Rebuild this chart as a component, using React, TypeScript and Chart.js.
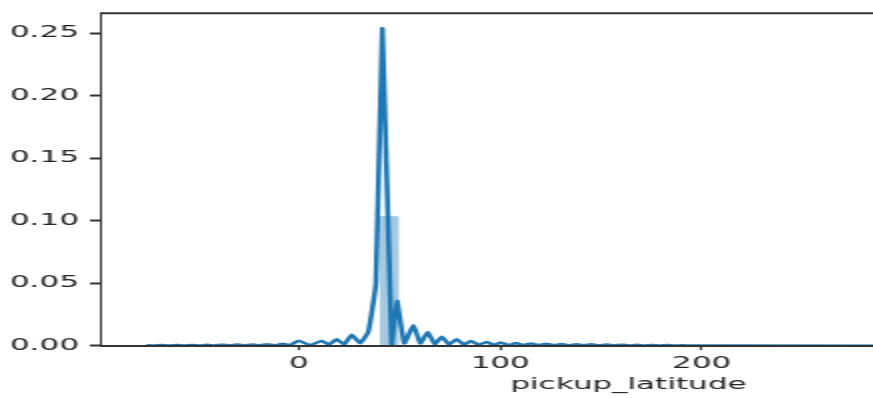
import React, { useEffect, useRef } from "react";
import { Chart, registerables } from "chart.js";

Chart.register(...registerables);

// Histogram (density) bin edges and heights
const HIST_EDGES = [39.9, 49.8];
const HIST_DENSITY = [0.1035];

// KDE curve samples
const KDE_X = [
  -75.8, -72.0, -68.3, -64.5, -60.8, -57.0, -53.2, -49.5, -45.7, -42.0,
  -38.2, -34.5, -30.7, -27.0, -23.2, -19.4, -15.7, -11.9, -8.2, -4.4,
  -0.3, 5.5, 11.3, 14.8, 18.7, 22.4, 26.2, 30.3, 34.4, 38.2,
  41.4, 46.0, 48.6, 52.3, 56.8, 60.2, 63.9, 67.4, 70.9, 74.5,
  78.3, 81.8, 85.4, 89.2, 93.2, 96.7, 100.3, 104.0, 107.8, 111.5,
  115.3, 119.0, 122.8, 126.5, 130.3, 134.0, 137.8, 141.5, 145.3, 149.0,
  152.8, 156.5, 160.3, 164.0, 167.8, 171.5, 175.3, 179.0, 182.8, 186.5,
  190.3, 194.0, 198.0, 402.0,
];
const KDE_Y = [
  0.0004, 0.0001, 0.0005, 0.0001, 0.0006, 0.0001, 0.0006, 0.0002, 0.0007, 0.0002,
  0.0008, 0.0002, 0.0009, 0.0002, 0.001, 0.0003, 0.0012, 0.0003, 0.0015, 0.0004,
  0.004, 0.0004, 0.004, 0.0008, 0.0051, 0.001, 0.0087, 0.0019, 0.011, 0.05,
  0.254, 0.0005, 0.036, 0.0018, 0.0165, 0.0018, 0.011, 0.0012, 0.0072, 0.001,
  0.0052, 0.0008, 0.0038, 0.0007, 0.003, 0.0006, 0.0025, 0.0005, 0.0021, 0.0005,
  0.0018, 0.0004, 0.0016, 0.0004, 0.0014, 0.0003, 0.0012, 0.0003, 0.0011, 0.0003,
  0.0009, 0.0002, 0.0008, 0.0002, 0.0007, 0.0002, 0.0006, 0.0001, 0.0005, 0.0001,
  0.0004, 0.0001, 0.0001, 0,
];

const X_MIN = -98.4;
const X_MAX = 425.7;
const Y_MIN = 0;
const Y_MAX = 0.266;
const X_TICKS = [0, 100, 200];
const Y_TICKS = [0, 0.05, 0.1, 0.15, 0.2, 0.25];
const X_TITLE = "pickup_latitude";

const STRETCH = 2.0;
const CW = 600;
const CH = 398;

export default function App() {
  const ref = useRef<HTMLCanvasElement | null>(null);

  useEffect(() => {
    document.body.style.margin = "0";
    const canvas = ref.current;
    if (!canvas) return;
    canvas.width = CW;
    canvas.height = CH;
    canvas.style.width = CW * STRETCH + "px";
    canvas.style.height = CH + "px";

    const histPts: { x: number; y: number }[] = [];
    HIST_DENSITY.forEach((d, i) => {
      histPts.push({ x: HIST_EDGES[i], y: 0 });
      histPts.push({ x: HIST_EDGES[i], y: d });
      histPts.push({ x: HIST_EDGES[i + 1], y: d });
      histPts.push({ x: HIST_EDGES[i + 1], y: 0 });
    });
    const kdePts = KDE_X.map((x, i) => ({ x, y: KDE_Y[i] }));

    const axisColor = "#333";
    const textColor = "#222";
    const font = { family: "DejaVu Sans", size: 15.5 };
    const yFont = { family: "DejaVu Sans", size: 15.5, lineHeight: 1 };

    const topSpine = {
      id: "topSpine",
      afterDraw(chart: any) {
        const { ctx, chartArea } = chart;
        ctx.save();
        ctx.strokeStyle = axisColor;
        ctx.lineWidth = 2;
        ctx.beginPath();
        ctx.moveTo(chartArea.left - 0.5, chartArea.top);
        ctx.lineTo(chartArea.right, chartArea.top);
        ctx.stroke();
        ctx.restore();
      },
    };

    const chart = new Chart(canvas, {
      type: "line",
      data: {
        datasets: [
          {
            data: kdePts,
            borderColor: "#1f77b4",
            borderWidth: 2.5,
            pointRadius: 0,
            fill: false,
            tension: 0.1,
            order: 0,
          },
          {
            data: histPts,
            borderWidth: 0,
            borderColor: "rgba(0,0,0,0)",
            backgroundColor: "rgba(31,119,180,0.4)",
            pointRadius: 0,
            fill: "origin",
            tension: 0,
            order: 1,
          },
        ],
      },
      options: {
        animation: false,
        responsive: false,
        events: [],
        layout: { padding: { top: 12.3, right: 22, bottom: 0, left: 0 } },
        plugins: {
          legend: { display: false },
          tooltip: { enabled: false },
          title: { display: false },
        },
        scales: {
          x: {
            type: "linear",
            min: X_MIN,
            max: X_MAX,
            afterBuildTicks: (s: any) => {
              s.ticks = X_TICKS.map((v) => ({ value: v }));
            },
            afterFit: (s: any) => {
              s.height = 52.3;
            },
            grid: {
              drawOnChartArea: false,
              drawTicks: true,
              tickLength: 4.5,
              tickWidth: 1.2,
              tickColor: axisColor,
            },
            border: { display: true, color: axisColor, width: 2, z: 1 },
            ticks: {
              color: textColor,
              font,
              padding: 4,
              maxRotation: 0,
              callback: (v: any) => String(v),
            },
            title: {
              display: true,
              text: X_TITLE,
              color: textColor,
              font,
              padding: { top: 0, bottom: 3.7 },
            },
          },
          y: {
            type: "linear",
            min: Y_MIN,
            max: Y_MAX,
            afterBuildTicks: (s: any) => {
              s.ticks = Y_TICKS.map((v) => ({ value: v }));
            },
            afterFit: (s: any) => {
              s.width = 50.5;
            },
            grid: {
              drawOnChartArea: false,
              drawTicks: true,
              tickLength: 5.5,
              tickWidth: 2,
              tickColor: axisColor,
            },
            border: { display: true, color: axisColor, width: 1, z: 1 },
            ticks: {
              color: textColor,
              font: yFont,
              padding: 5.5,
              callback: (v: any) => Number(v).toFixed(2),
            },
          },
        },
      },
      plugins: [topSpine],
    });

    return () => chart.destroy();
  }, []);

  return (
    <div style={{ width: 873, height: 398, overflow: "hidden", position: "relative", background: "#fff" }}>
      <canvas ref={ref} width={CW} height={CH} />
    </div>
  );
}
